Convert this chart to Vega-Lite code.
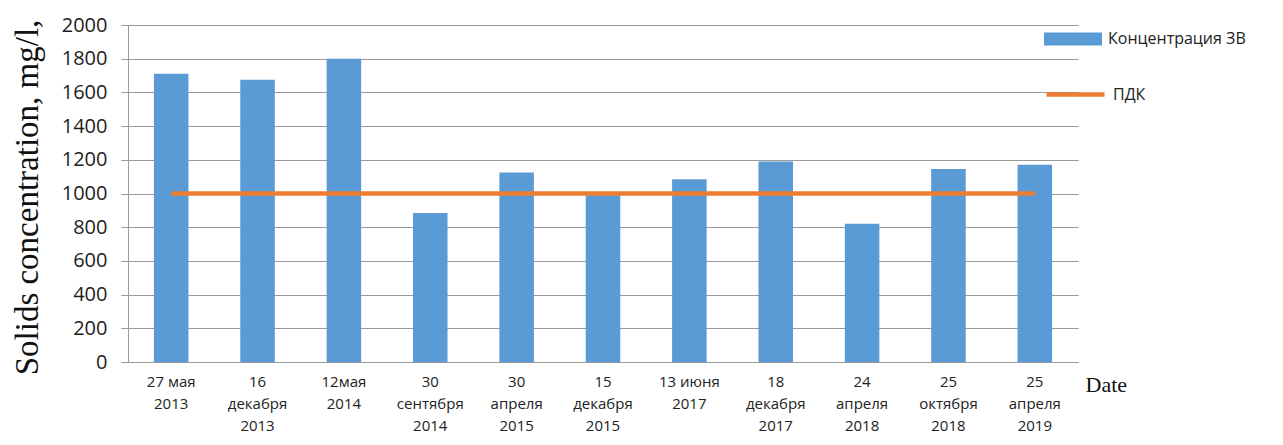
{
  "$schema": "https://vega.github.io/schema/vega-lite/v6.json",
  "width": 950,
  "height": 337,
  "autosize": "none",
  "padding": {"left": 128, "top": 25, "right": 205, "bottom": 83},
  "background": "white",
  "config": {
    "view": {"stroke": null},
    "font": "Open Sans",
    "axisY": {
      "values": [0, 200, 400, 600, 800, 1000, 1200, 1400, 1600, 1800, 2000],
      "format": "d",
      "labelOverlap": false,
      "labelFont": "Open Sans",
      "labelFontSize": 20,
      "labelColor": "#222",
      "labelPadding": 14,
      "tickSize": 7,
      "tickColor": "#9a9a9a",
      "domainColor": "#9a9a9a",
      "gridColor": "#9a9a9a",
      "gridWidth": 1.2
    }
  },
  "data": {
    "values": [
      {"date": "27 мая|2013", "value": 1710, "pdk": 1000, "s": "Концентрация ЗВ", "l": "ПДК"},
      {"date": "16|декабря|2013", "value": 1675, "pdk": 1000, "s": "Концентрация ЗВ", "l": "ПДК"},
      {"date": "12мая|2014", "value": 1800, "pdk": 1000, "s": "Концентрация ЗВ", "l": "ПДК"},
      {"date": "30|сентября|2014", "value": 885, "pdk": 1000, "s": "Концентрация ЗВ", "l": "ПДК"},
      {"date": "30|апреля|2015", "value": 1125, "pdk": 1000, "s": "Концентрация ЗВ", "l": "ПДК"},
      {"date": "15|декабря|2015", "value": 990, "pdk": 1000, "s": "Концентрация ЗВ", "l": "ПДК"},
      {"date": "13 июня|2017", "value": 1085, "pdk": 1000, "s": "Концентрация ЗВ", "l": "ПДК"},
      {"date": "18|декабря|2017", "value": 1190, "pdk": 1000, "s": "Концентрация ЗВ", "l": "ПДК"},
      {"date": "24|апреля|2018", "value": 820, "pdk": 1000, "s": "Концентрация ЗВ", "l": "ПДК"},
      {"date": "25|октября|2018", "value": 1145, "pdk": 1000, "s": "Концентрация ЗВ", "l": "ПДК"},
      {"date": "25|апреля|2019", "value": 1170, "pdk": 1000, "s": "Концентрация ЗВ", "l": "ПДК"}
    ]
  },
  "encoding": {
    "x": {
      "field": "date",
      "type": "nominal",
      "sort": null,
      "scale": {"paddingInner": 0.6, "paddingOuter": 0.3},
      "axis": {
        "labelExpr": "split(datum.label, '|')",
        "labelAngle": 0,
        "labelFont": "Open Sans",
        "labelFontSize": 15,
        "labelColor": "#222",
        "labelLineHeight": 22,
        "labelBaseline": "top",
        "labelPadding": 12,
        "ticks": false,
        "domainColor": "#9a9a9a",
        "domainWidth": 1.2,
        "title": "Date",
        "titleFont": "Liberation Serif",
        "titleFontSize": 22,
        "titleFontWeight": "normal",
        "titleColor": "#111",
        "titleAlign": "left",
        "titleBaseline": "middle",
        "titleX": 957,
        "titleY": 22
      }
    }
  },
  "layer": [
    {
      "mark": {"type": "bar", "color": "#5B9BD5"},
      "encoding": {
        "y": {
          "field": "value",
          "type": "quantitative",
          "scale": {"domain": [0, 2000], "nice": false},
          "axis": {
            "title": "Solids concentration, mg/l,",
            "titleFont": "Liberation Serif",
            "titleFontSize": 33,
            "titleFontWeight": "normal",
            "titleColor": "#111",
            "titleAngle": -90,
            "titleBaseline": "middle",
            "titleAlign": "center",
            "titleX": -101,
            "titleY": 172
          }
        },
        "fill": {
          "field": "s",
          "type": "nominal",
          "scale": {"range": ["#5B9BD5"]},
          "legend": {
            "title": null,
            "orient": "none",
            "legendX": 916,
            "legendY": -15,
            "symbolType": "M-1,-0.22H1V0.22H-1Z",
            "symbolSize": 3364,
            "symbolStrokeWidth": 0,
            "labelFont": "Open Sans",
            "labelFontSize": 16,
            "labelColor": "#222",
            "labelOffset": 6
          }
        }
      }
    },
    {
      "mark": {"type": "line", "color": "#ED7D31", "strokeWidth": 4.5},
      "encoding": {
        "y": {"field": "pdk", "type": "quantitative"},
        "stroke": {
          "field": "l",
          "type": "nominal",
          "scale": {"range": ["#ED7D31"]},
          "legend": {
            "title": null,
            "orient": "none",
            "legendX": 916,
            "legendY": 38,
            "symbolType": "stroke",
            "symbolSize": 3364,
            "symbolStrokeWidth": 4.5,
            "labelFont": "Open Sans",
            "labelFontSize": 16,
            "labelColor": "#222",
            "labelOffset": 6
          }
        }
      }
    }
  ]
}
